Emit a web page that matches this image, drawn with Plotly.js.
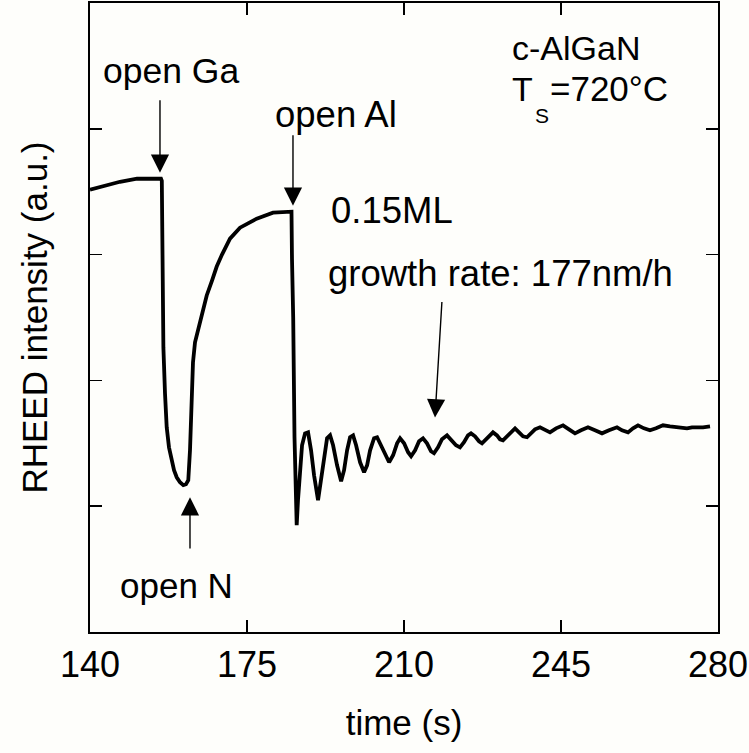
<!DOCTYPE html>
<html>
<head>
<meta charset="utf-8">
<script src="https://cdn.plot.ly/plotly-3.0.1.min.js"></script>
<style>html,body{margin:0;padding:0;background:#fefefb;}</style>
</head>
<body>
<div id="chart" style="width:749px;height:753px;"></div>
<script>
// RHEED intensity trace (time in s, intensity in a.u.)
const time = [
  140.00, 143.34, 146.69, 150.48, 155.83,
  156.01, 156.10, 156.36, 156.72, 157.10, 157.61, 158.21, 158.73, 159.33, 160.06, 160.80,
  161.40, 161.91, 162.14, 162.29, 162.52, 162.67, 162.96, 163.41, 164.14, 164.97, 166.02, 167.20,
  168.25, 169.43, 171.21, 173.44, 177.16, 180.80, 184.92,
  185.03, 185.30, 185.59, 185.92, 186.08,
  186.37, 186.82, 187.27, 187.94, 188.61, 189.28, 189.95, 190.84, 191.51, 192.18, 192.85, 193.52,
  194.19, 195.08, 195.98, 196.64, 197.31, 197.98, 198.65, 199.32, 200.21, 201.10, 201.77, 202.44,
  203.33, 204.00, 204.89, 205.78, 206.68, 207.57, 208.46, 209.13, 210.02, 210.91, 211.58, 212.47,
  213.36, 214.24, 215.13, 216.02, 216.69, 217.58, 218.47, 219.59, 220.48, 221.59, 222.48, 223.38,
  224.27, 224.94, 225.83, 226.72, 227.39, 228.28, 229.17, 229.84, 230.73, 231.40, 232.07, 232.96,
  233.85, 234.75, 235.64, 236.53, 237.42, 238.31, 239.20, 240.32, 241.43, 242.55, 243.89, 245.45,
  246.78, 248.12, 249.46, 251.02, 252.58, 254.14, 255.70, 257.48, 258.60, 259.94, 261.05, 262.17,
  263.50, 264.84, 266.18, 267.74, 269.30, 270.86, 271.98, 273.09, 274.21, 275.32, 276.66, 278.22
];
const intensity = [
  3.516, 3.548, 3.579, 3.603, 3.603,
  3.587, 2.897, 2.262, 1.897, 1.627, 1.468, 1.365, 1.286, 1.230, 1.190, 1.167,
  1.175, 1.206, 1.302, 1.444, 1.683, 1.921, 2.143, 2.302, 2.413, 2.532, 2.675, 2.794,
  2.905, 3.000, 3.127, 3.214, 3.286, 3.333, 3.341,
  2.968, 2.500, 1.548, 1.206, 0.849,
  1.048, 1.286, 1.484, 1.579, 1.587, 1.444, 1.246, 1.048, 1.206, 1.405, 1.540, 1.563,
  1.484, 1.325, 1.198, 1.286, 1.444, 1.548, 1.563, 1.484, 1.349, 1.270, 1.325, 1.444,
  1.540, 1.548, 1.484, 1.405, 1.349, 1.405, 1.500, 1.540, 1.500, 1.429, 1.397, 1.444,
  1.516, 1.540, 1.500, 1.437, 1.421, 1.468, 1.532, 1.563, 1.532, 1.484, 1.468, 1.508,
  1.563, 1.579, 1.556, 1.516, 1.500, 1.532, 1.571, 1.587, 1.563, 1.532, 1.524, 1.556,
  1.595, 1.619, 1.587, 1.556, 1.548, 1.579, 1.611, 1.627, 1.603, 1.587, 1.619, 1.643,
  1.611, 1.579, 1.603, 1.627, 1.603, 1.579, 1.603, 1.627, 1.603, 1.587, 1.619, 1.643,
  1.619, 1.603, 1.619, 1.643, 1.635, 1.627, 1.619, 1.619, 1.627, 1.627, 1.627, 1.635
];
const xTickVals = [140, 175, 210, 245, 280];
const xTickText = ['140', '175', '210', '245', '280'];
const yTickVals = [1, 2, 3, 4];

// Arrow annotations: [tipX, tipY, tailX, tailY]
const arrowOpenGa = [155.6, 3.651, 155.6, 4.238];
const arrowOpenAl = [185.25, 3.389, 185.25, 3.960];
const arrowOpenN = [162.29, 1.071, 162.29, 0.651];
const arrowGrowth = [216.91, 1.706, 218.47, 2.635];

// Text labels: [text, x, y, font size]
const labelOpenGa = ['open Ga', 158.06, 4.460, 35.5];
const labelOpenAl = ['open Al', 194.84, 4.111, 36.5];
const labelOpenN = ['open N', 159.39, 0.373, 35];
const labelML = ['0.15ML', 207.33, 3.349, 36.5];
const labelGrowth = ['growth rate: 177nm/h', 231.62, 2.849, 36.5];
const labelSample = ['c-AlGaN', 248.34, 4.643, 34];
const labelT = ['T', 233.63, 4.317, 34];
const labelS = ['S', 238.76, 4.103, 21];
const labelTemp = ['=720°C', 242.10, 4.317, 35];

const FONT = 'Liberation Sans, Arial, Helvetica, sans-serif';

function arrow(a) {
  return {x: a[0], y: a[1], ax: a[2], ay: a[3], xref: 'x', yref: 'y', axref: 'x', ayref: 'y',
    text: '', showarrow: true, arrowhead: 2, arrowsize: 2.6, arrowwidth: 1.4, arrowcolor: '#000'};
}
function label(l, anchor) {
  return {x: l[1], y: l[2], xref: 'x', yref: 'y', text: l[0], showarrow: false,
    xanchor: anchor || 'center', yanchor: 'middle', font: {family: FONT, size: l[3], color: '#000'}};
}

const trace = {
  x: time, y: intensity, type: 'scatter', mode: 'lines',
  line: {color: '#000', width: 3.8}, hoverinfo: 'skip'
};

const layout = {
  width: 749, height: 753,
  margin: {l: 90, r: 31, t: 3, b: 121},
  paper_bgcolor: '#fefefb', plot_bgcolor: '#fefefb',
  showlegend: false,
  font: {family: FONT, color: '#000'},
  xaxis: {
    range: [140, 280], tickvals: xTickVals, ticktext: xTickText,
    ticks: 'inside', ticklen: 12, tickwidth: 1.5, tickcolor: '#000',
    showline: true, linewidth: 2, linecolor: '#000', mirror: 'ticks',
    showgrid: false, zeroline: false,
    tickfont: {family: FONT, size: 36, color: '#000'},
    title: {text: 'time (s)', font: {family: FONT, size: 35, color: '#000'}, standoff: 26}
  },
  yaxis: {
    range: [0, 5], tickvals: yTickVals, showticklabels: false,
    ticks: 'inside', ticklen: 12, tickwidth: 1.5, tickcolor: '#000',
    showline: true, linewidth: 2, linecolor: '#000', mirror: 'ticks',
    showgrid: false, zeroline: false,
    title: {text: 'RHEED intensity (a.u.)', font: {family: FONT, size: 35, color: '#000'}, standoff: 30}
  },
  annotations: [
    arrow(arrowOpenGa), arrow(arrowOpenAl), arrow(arrowOpenN), arrow(arrowGrowth),
    label(labelOpenGa), label(labelOpenAl), label(labelOpenN), label(labelML), label(labelGrowth),
    label(labelSample), label(labelT, 'left'), label(labelS, 'left'), label(labelTemp, 'left')
  ]
};

Plotly.newPlot('chart', [trace], layout, {staticPlot: true, displayModeBar: false});
</script>
</body>
</html>
